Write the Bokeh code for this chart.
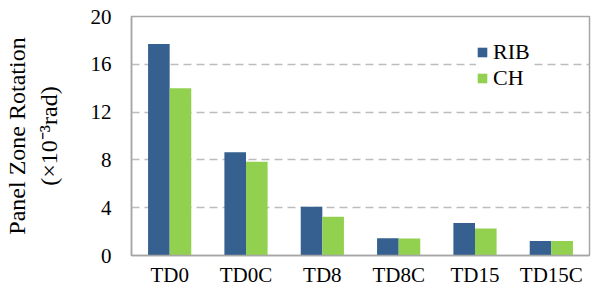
from bokeh.plotting import figure
from bokeh.models import FactorRange, Range1d, FixedTicker, ColumnDataSource, Legend, LegendItem
from bokeh.transform import dodge
from bokeh.embed import file_html
from bokeh.resources import INLINE

categories = ["TD0", "TD0C", "TD8", "TD8C", "TD15", "TD15C"]
rib = [17.7, 8.65, 4.08, 1.45, 2.72, 1.22]
ch = [14.0, 7.85, 3.25, 1.42, 2.26, 1.22]
y_ticks = [0, 4, 8, 12, 16, 20]

FONT = "Liberation Serif"
BLUE = "#35608F"
GREEN = "#92D050"
GRAY = "#A6A6A6"

src = ColumnDataSource(dict(cat=categories, rib=rib, ch=ch))

p = figure(width=593, height=289, output_backend="svg", toolbar_location=None,
           x_range=FactorRange(*categories, range_padding=0),
           y_range=Range1d(0, 20))
p.min_border_left = 131
p.min_border_right = 4
p.min_border_top = 16
p.min_border_bottom = 34

r1 = p.vbar(x=dodge("cat", -0.1415, range=p.x_range), top="rib", width=0.283,
            source=src, fill_color=BLUE, line_color=None)
r2 = p.vbar(x=dodge("cat", 0.1415, range=p.x_range), top="ch", width=0.283,
            source=src, fill_color=GREEN, line_color=None)

p.outline_line_color = GRAY
p.outline_line_width = 1.5
p.xgrid.grid_line_color = None
p.ygrid.grid_line_color = "#BDBDBD"
p.ygrid.grid_line_width = 1.5
p.ygrid.grid_line_dash = "8 5"
p.ygrid.bounds = (4, 16)

p.yaxis.ticker = FixedTicker(ticks=y_ticks)
for ax in (p.xaxis[0], p.yaxis[0]):
    ax.axis_line_color = GRAY
    ax.axis_line_width = 1.5
    ax.major_tick_line_color = None
    ax.minor_tick_line_color = None
    ax.major_tick_in = 0
    ax.major_tick_out = 0
    ax.major_label_text_font = FONT
    ax.major_label_text_color = "black"
    ax.axis_label_text_font = FONT
    ax.axis_label_text_font_style = "normal"
    ax.axis_label_text_color = "black"

p.xaxis.major_label_text_font_size = "21px"
p.xaxis.major_label_text_line_height = 1.0
p.xaxis.major_label_standoff = 7
p.yaxis.major_label_text_font_size = "21px"
p.yaxis.major_label_standoff = 20
p.yaxis.axis_label = "Panel Zone Rotation\n(\u00d710\u207b\u00b3rad)"
p.yaxis.axis_label_text_font_size = "24px"
p.yaxis.axis_label_text_line_height = 1.2
p.yaxis.axis_label_standoff = 26

legend = Legend(items=[LegendItem(label="RIB", renderers=[r1]),
                       LegendItem(label="CH", renderers=[r2])],
                location=(345, 164))
legend.label_text_font = FONT
legend.label_text_font_size = "22px"
legend.label_text_color = "black"
legend.label_height = 22
legend.glyph_width = 12
legend.glyph_height = 12
legend.label_standoff = 5
legend.spacing = 0
legend.padding = 14
legend.margin = 0
legend.border_line_color = None
legend.background_fill_color = "white"
legend.background_fill_alpha = 1.0
p.add_layout(legend, "center")

open("out.html", "w").write(file_html(p, INLINE))
